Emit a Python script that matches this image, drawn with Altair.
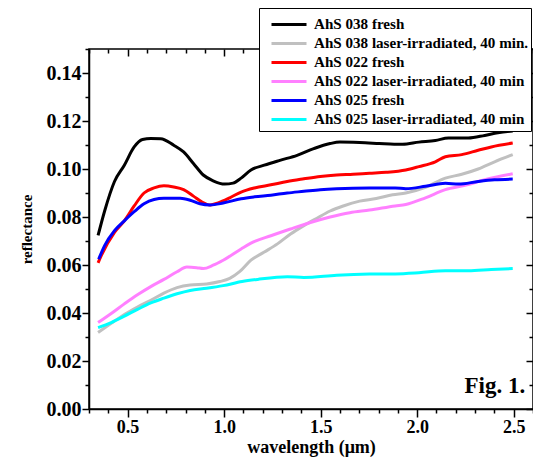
import altair as alt
import pandas as pd

series_names = [
    "AhS 038 fresh",
    "AhS 038 laser-irradiated, 40 min.",
    "AhS 022 fresh",
    "AhS 022 laser-irradiated, 40 min",
    "AhS 025 fresh",
    "AhS 025 laser-irradiated, 40 min",
]
series_colors = ["#000000", "#C0C0C0", "#FF0000", "#FF80FF", "#0000FF", "#00FFFF"]

x_038_fresh = [0.347, 0.381, 0.432, 0.483, 0.534, 0.577, 0.62, 0.671, 0.739, 0.790, 0.841, 0.892, 0.943, 1.003, 1.046, 1.088, 1.139, 1.208, 1.293, 1.378, 1.464, 1.549, 1.600, 1.702, 1.804, 1.881, 1.924, 2.009, 2.094, 2.162, 2.265, 2.350, 2.418, 2.495]
y_038_fresh = [0.0723, 0.0825, 0.0948, 0.1016, 0.1092, 0.1123, 0.1127, 0.1126, 0.1099, 0.1071, 0.1023, 0.0975, 0.0951, 0.0937, 0.0941, 0.0962, 0.0996, 0.1016, 0.1037, 0.1057, 0.1085, 0.1106, 0.1112, 0.1110, 0.1106, 0.1103, 0.1103, 0.1112, 0.1119, 0.1129, 0.1129, 0.1140, 0.1151, 0.1158]

x_038_laser = [0.347, 0.415, 0.483, 0.551, 0.620, 0.688, 0.756, 0.824, 0.909, 0.978, 1.029, 1.080, 1.139, 1.208, 1.276, 1.344, 1.413, 1.481, 1.549, 1.617, 1.702, 1.788, 1.873, 1.941, 2.043, 2.146, 2.231, 2.316, 2.401, 2.495]
y_038_laser = [0.0319, 0.0357, 0.0394, 0.0425, 0.0453, 0.0483, 0.0506, 0.0517, 0.0521, 0.0531, 0.0544, 0.0572, 0.0620, 0.0654, 0.0688, 0.0729, 0.0764, 0.0795, 0.0825, 0.0846, 0.0866, 0.0877, 0.0893, 0.0900, 0.0924, 0.0962, 0.0978, 0.1000, 0.1030, 0.1060]

x_022_fresh = [0.347, 0.364, 0.432, 0.483, 0.534, 0.585, 0.637, 0.688, 0.739, 0.790, 0.841, 0.884, 0.927, 0.969, 1.029, 1.088, 1.157, 1.242, 1.327, 1.413, 1.498, 1.583, 1.668, 1.753, 1.839, 1.941, 2.009, 2.094, 2.146, 2.231, 2.316, 2.384, 2.495]
y_022_fresh = [0.0609, 0.0640, 0.0736, 0.0784, 0.0846, 0.0900, 0.0921, 0.0930, 0.0925, 0.0914, 0.0887, 0.0863, 0.0850, 0.0859, 0.0880, 0.0904, 0.0921, 0.0934, 0.0948, 0.0959, 0.0969, 0.0975, 0.0978, 0.0982, 0.0986, 0.0996, 0.1010, 0.1030, 0.1051, 0.1060, 0.1078, 0.1092, 0.1108]

x_022_laser = [0.347, 0.415, 0.483, 0.551, 0.620, 0.688, 0.756, 0.807, 0.858, 0.892, 0.943, 0.995, 1.088, 1.139, 1.242, 1.344, 1.447, 1.549, 1.651, 1.753, 1.886, 1.941, 2.043, 2.146, 2.248, 2.350, 2.495]
y_022_laser = [0.0360, 0.0398, 0.0438, 0.0476, 0.0510, 0.0540, 0.0572, 0.0592, 0.0589, 0.0585, 0.0599, 0.0620, 0.0667, 0.0691, 0.0722, 0.0750, 0.0777, 0.0800, 0.0818, 0.0829, 0.0846, 0.0852, 0.0880, 0.0914, 0.0932, 0.0955, 0.0980]

x_025_fresh = [0.350, 0.381, 0.432, 0.483, 0.534, 0.585, 0.637, 0.688, 0.773, 0.824, 0.875, 0.927, 0.995, 1.088, 1.157, 1.242, 1.327, 1.413, 1.498, 1.583, 1.753, 1.886, 1.941, 2.043, 2.146, 2.214, 2.316, 2.401, 2.495]
y_025_fresh = [0.0624, 0.0681, 0.0743, 0.0784, 0.0822, 0.0855, 0.0873, 0.0878, 0.0878, 0.0870, 0.0855, 0.0850, 0.0858, 0.0876, 0.0884, 0.0891, 0.0900, 0.0907, 0.0914, 0.0918, 0.0921, 0.0921, 0.0918, 0.0928, 0.0941, 0.0937, 0.0948, 0.0955, 0.0958]

x_025_laser = [0.347, 0.415, 0.483, 0.551, 0.620, 0.688, 0.756, 0.824, 0.909, 0.995, 1.093, 1.174, 1.327, 1.413, 1.583, 1.753, 1.886, 2.009, 2.146, 2.265, 2.384, 2.495]
y_025_laser = [0.0339, 0.0360, 0.0387, 0.0415, 0.0442, 0.0462, 0.0480, 0.0494, 0.0503, 0.0514, 0.0531, 0.0540, 0.0551, 0.0548, 0.0557, 0.0562, 0.0563, 0.0568, 0.0576, 0.0576, 0.0581, 0.0585]

x_ticks = [round(0.3 + 0.1 * i, 1) for i in range(24)]
y_ticks = [round(0.01 * i, 2) for i in range(16)]

annot_text = ["Fig. 1."]
annot_x = [2.56]
annot_y = [0.0065]

xs = [x_038_fresh, x_038_laser, x_022_fresh, x_022_laser, x_025_fresh, x_025_laser]
ys = [y_038_fresh, y_038_laser, y_022_fresh, y_022_laser, y_025_fresh, y_025_laser]
rows = []
for k, (name, xv, yv) in enumerate(zip(series_names, xs, ys)):
    for i, (a, b) in enumerate(zip(xv, yv)):
        rows.append({"series": name, "order": k, "i": i, "wavelength": a, "reflectance": b})
df = pd.DataFrame(rows)

W, H = 444, 360
FONT = "Liberation Serif"
x_major = "abs(datum.value*2 - round(datum.value*2)) < 0.001"
y_major = "abs(datum.value*50 - round(datum.value*50)) < 0.001"

xscale = alt.Scale(domain=[0.3, 2.6], nice=False, zero=False)
yscale = alt.Scale(domain=[0.0, 0.15], nice=False, zero=False)

common_axis = dict(labelFont=FONT, titleFont=FONT, labelFontWeight="bold", titleFontWeight="bold",
                   labelColor="black", titleColor="black", domainColor="black", tickColor="black",
                   domainWidth=1.5, tickWidth=1.5, grid=False, labelOverlap=False, labelFlush=False)

lines = alt.Chart(df).mark_line(strokeWidth=3, interpolate="monotone").encode(
    x=alt.X("wavelength:Q", scale=xscale,
            axis=alt.Axis(values=x_ticks, title="wavelength (\u03bcm)", orient="bottom",
                          labelExpr=f"{x_major} ? format(datum.value, '.1f') : ''",
                          tickSize={"condition": {"test": x_major, "value": 8}, "value": 4},
                          labelFontSize=18, titleFontSize=18, labelPadding=1, titlePadding=2,
                          **common_axis)),
    y=alt.Y("reflectance:Q", scale=yscale,
            axis=alt.Axis(values=y_ticks, title="reflectance", orient="left",
                          labelExpr=f"{y_major} ? format(datum.value, '.2f') : ''",
                          tickSize={"condition": {"test": y_major, "value": 7}, "value": 4},
                          labelFontSize=20, titleFontSize=15, labelPadding=1, titlePadding=12,
                          **common_axis)),
    color=alt.Color("series:N", scale=alt.Scale(domain=series_names, range=series_colors),
                    legend=alt.Legend(title=" ", titleFontSize=2, titlePadding=3,
                                      orient="none", legendX=170, legendY=-41,
                                      symbolType="stroke", symbolSize=1225, symbolStrokeWidth=3,
                                      symbolOffset=9, labelOffset=6, labelFontSize=15.1,
                                      labelFont=FONT, labelFontWeight="bold", labelColor="black",
                                      labelLimit=400, clipHeight=18.8, rowPadding=0, padding=2,
                                      strokeColor="black", fillColor="white")),
    detail="order:O",
    order="i:Q",
)

tick_axis = dict(labels=False, domain=False, title=None, tickColor="black", tickWidth=1.5, grid=False)
frame_ticks = alt.Chart(pd.DataFrame({"wavelength": x_ticks, "reflectance": [0.0] * len(x_ticks)})).mark_point(opacity=0).encode(
    x=alt.X("wavelength:Q", scale=xscale,
            axis=alt.Axis(values=x_ticks, orient="bottom", offset=-H,
                          tickSize={"condition": {"test": x_major, "value": 7}, "value": 4}, **tick_axis)),
    y=alt.Y("reflectance:Q", scale=yscale,
            axis=alt.Axis(values=y_ticks, orient="left", offset=-W,
                          tickSize={"condition": {"test": y_major, "value": 7}, "value": 4}, **tick_axis)),
)

annot = alt.Chart(pd.DataFrame({"t": annot_text, "x": annot_x, "y": annot_y})).mark_text(
    font=FONT, fontWeight="bold", fontSize=23, align="right", baseline="alphabetic", color="black"
).encode(x=alt.X("x:Q", scale=xscale, axis=None), y=alt.Y("y:Q", scale=yscale, axis=None), text="t:N")

chart = alt.layer(lines, annot, frame_ticks).resolve_axis(x="independent", y="independent").properties(
    width=W, height=H,
    autosize=alt.AutoSizeParams(type="none"),
    padding={"left": 81, "top": 41, "right": 0, "bottom": 49},
).configure(background="white").configure_view(stroke="black", strokeWidth=1.5)

chart.save("out.html", embed_options={"renderer": "svg", "actions": False})
